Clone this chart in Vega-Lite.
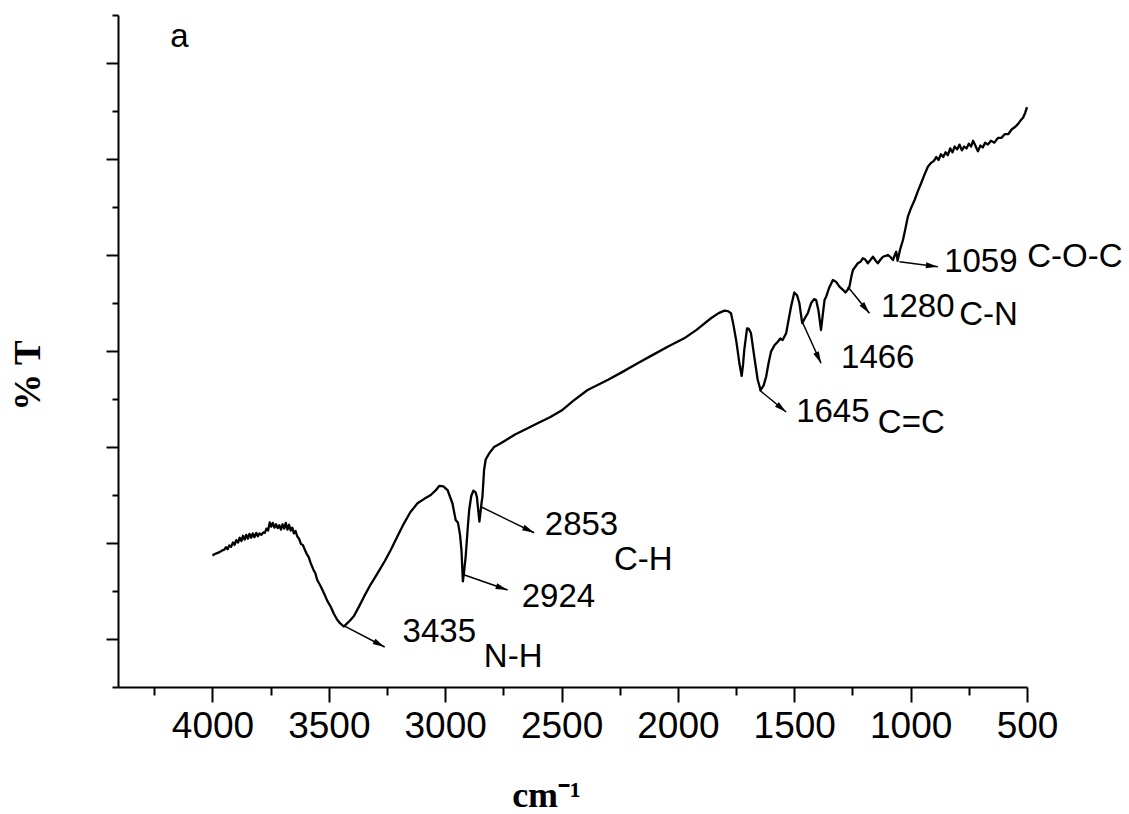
{
  "$schema": "https://vega.github.io/schema/vega-lite/v6.json",
  "autosize": "none",
  "width": 909,
  "height": 672,
  "padding": {"left": 118, "top": 15, "right": 102, "bottom": 127},
  "background": "white",
  "config": {"view": {"stroke": null}},
  "datasets": {
    "spectrum": [
      {"w": 4000, "t": 13.70}, {"w": 3990, "t": 13.85}, {"w": 3980, "t": 13.95}, {"w": 3970, "t": 14.05},
      {"w": 3960, "t": 14.20}, {"w": 3950, "t": 14.30}, {"w": 3942, "t": 14.55}, {"w": 3935, "t": 14.35},
      {"w": 3928, "t": 14.75}, {"w": 3920, "t": 14.60}, {"w": 3912, "t": 15.05}, {"w": 3905, "t": 14.80},
      {"w": 3898, "t": 15.30}, {"w": 3890, "t": 15.05}, {"w": 3883, "t": 15.55}, {"w": 3876, "t": 15.20},
      {"w": 3869, "t": 15.75}, {"w": 3862, "t": 15.35}, {"w": 3855, "t": 15.85}, {"w": 3848, "t": 15.45},
      {"w": 3841, "t": 15.95}, {"w": 3834, "t": 15.55}, {"w": 3827, "t": 16.00}, {"w": 3820, "t": 15.60},
      {"w": 3812, "t": 16.05}, {"w": 3805, "t": 15.70}, {"w": 3798, "t": 16.00}, {"w": 3790, "t": 15.85},
      {"w": 3782, "t": 16.10}, {"w": 3775, "t": 16.05}, {"w": 3768, "t": 16.50}, {"w": 3761, "t": 16.30},
      {"w": 3754, "t": 17.15}, {"w": 3748, "t": 16.70}, {"w": 3741, "t": 17.10}, {"w": 3734, "t": 16.60},
      {"w": 3727, "t": 16.95}, {"w": 3720, "t": 16.55}, {"w": 3713, "t": 16.85}, {"w": 3706, "t": 16.40},
      {"w": 3699, "t": 16.95}, {"w": 3692, "t": 16.50}, {"w": 3685, "t": 17.10}, {"w": 3678, "t": 16.40},
      {"w": 3671, "t": 16.90}, {"w": 3664, "t": 16.30}, {"w": 3657, "t": 16.60}, {"w": 3650, "t": 16.00},
      {"w": 3643, "t": 16.25}, {"w": 3636, "t": 15.70}, {"w": 3628, "t": 15.45}, {"w": 3620, "t": 14.90},
      {"w": 3612, "t": 14.80}, {"w": 3605, "t": 14.40}, {"w": 3596, "t": 13.90}, {"w": 3587, "t": 13.55},
      {"w": 3578, "t": 12.90}, {"w": 3565, "t": 12.15}, {"w": 3558, "t": 11.85}, {"w": 3550, "t": 11.15},
      {"w": 3535, "t": 10.50}, {"w": 3521, "t": 9.76}, {"w": 3507, "t": 9.00}, {"w": 3492, "t": 8.36},
      {"w": 3478, "t": 7.60}, {"w": 3464, "t": 7.00}, {"w": 3450, "t": 6.60}, {"w": 3440, "t": 6.40},
      {"w": 3435, "t": 6.30}, {"w": 3425, "t": 6.55}, {"w": 3410, "t": 6.90}, {"w": 3392, "t": 7.40},
      {"w": 3370, "t": 8.40}, {"w": 3349, "t": 9.41}, {"w": 3320, "t": 10.70}, {"w": 3291, "t": 11.84},
      {"w": 3260, "t": 13.10}, {"w": 3234, "t": 14.27}, {"w": 3205, "t": 15.70}, {"w": 3177, "t": 17.05},
      {"w": 3150, "t": 18.20}, {"w": 3119, "t": 19.14}, {"w": 3090, "t": 19.60}, {"w": 3062, "t": 20.00},
      {"w": 3040, "t": 20.50}, {"w": 3026, "t": 20.94}, {"w": 3008, "t": 20.90}, {"w": 2990, "t": 20.52},
      {"w": 2969, "t": 19.14}, {"w": 2955, "t": 17.40}, {"w": 2945, "t": 17.10}, {"w": 2936, "t": 15.80},
      {"w": 2930, "t": 14.20}, {"w": 2924, "t": 11.00}, {"w": 2918, "t": 12.20}, {"w": 2912, "t": 13.57},
      {"w": 2904, "t": 16.30}, {"w": 2897, "t": 18.44}, {"w": 2888, "t": 19.90}, {"w": 2879, "t": 20.45},
      {"w": 2870, "t": 20.30}, {"w": 2864, "t": 19.82}, {"w": 2858, "t": 18.40}, {"w": 2853, "t": 17.22},
      {"w": 2848, "t": 18.30}, {"w": 2844, "t": 19.14}, {"w": 2840, "t": 19.82}, {"w": 2836, "t": 21.40},
      {"w": 2833, "t": 22.60}, {"w": 2826, "t": 23.70}, {"w": 2811, "t": 24.34}, {"w": 2790, "t": 25.00},
      {"w": 2761, "t": 25.39}, {"w": 2700, "t": 26.30}, {"w": 2650, "t": 26.90}, {"w": 2603, "t": 27.47},
      {"w": 2550, "t": 28.10}, {"w": 2500, "t": 28.80}, {"w": 2450, "t": 29.80}, {"w": 2388, "t": 30.94},
      {"w": 2300, "t": 32.00}, {"w": 2240, "t": 32.80}, {"w": 2173, "t": 33.72}, {"w": 2100, "t": 34.70},
      {"w": 2040, "t": 35.50}, {"w": 1973, "t": 36.32}, {"w": 1920, "t": 37.20}, {"w": 1858, "t": 38.41},
      {"w": 1825, "t": 38.95}, {"w": 1800, "t": 39.20}, {"w": 1785, "t": 39.15}, {"w": 1772, "t": 38.93},
      {"w": 1762, "t": 37.80}, {"w": 1750, "t": 36.15}, {"w": 1742, "t": 34.80}, {"w": 1736, "t": 33.72},
      {"w": 1726, "t": 32.40}, {"w": 1720, "t": 33.60}, {"w": 1715, "t": 35.10}, {"w": 1703, "t": 37.36},
      {"w": 1695, "t": 37.30}, {"w": 1686, "t": 36.84}, {"w": 1672, "t": 34.41}, {"w": 1657, "t": 31.98},
      {"w": 1645, "t": 30.94}, {"w": 1632, "t": 31.40}, {"w": 1621, "t": 32.32}, {"w": 1610, "t": 33.80},
      {"w": 1600, "t": 34.93}, {"w": 1585, "t": 35.60}, {"w": 1571, "t": 35.97}, {"w": 1560, "t": 36.30},
      {"w": 1550, "t": 36.15}, {"w": 1535, "t": 36.84}, {"w": 1524, "t": 38.30}, {"w": 1514, "t": 39.61},
      {"w": 1500, "t": 41.10}, {"w": 1488, "t": 40.80}, {"w": 1478, "t": 39.97}, {"w": 1466, "t": 37.90},
      {"w": 1455, "t": 38.40}, {"w": 1442, "t": 38.93}, {"w": 1428, "t": 39.97}, {"w": 1415, "t": 40.40},
      {"w": 1406, "t": 40.31}, {"w": 1396, "t": 39.20}, {"w": 1385, "t": 37.19}, {"w": 1377, "t": 38.90},
      {"w": 1370, "t": 40.31}, {"w": 1363, "t": 40.66}, {"w": 1350, "t": 41.60}, {"w": 1334, "t": 42.40},
      {"w": 1320, "t": 42.20}, {"w": 1306, "t": 41.70}, {"w": 1292, "t": 41.40}, {"w": 1280, "t": 41.10},
      {"w": 1270, "t": 41.40}, {"w": 1263, "t": 41.70}, {"w": 1255, "t": 42.70}, {"w": 1248, "t": 43.44},
      {"w": 1237, "t": 43.80}, {"w": 1227, "t": 44.14}, {"w": 1215, "t": 44.30}, {"w": 1205, "t": 44.66},
      {"w": 1194, "t": 44.50}, {"w": 1184, "t": 44.14}, {"w": 1172, "t": 44.50}, {"w": 1162, "t": 44.82},
      {"w": 1150, "t": 44.40}, {"w": 1141, "t": 44.14}, {"w": 1130, "t": 44.50}, {"w": 1119, "t": 44.82},
      {"w": 1108, "t": 44.90}, {"w": 1098, "t": 45.00}, {"w": 1087, "t": 44.80}, {"w": 1076, "t": 44.48},
      {"w": 1068, "t": 45.00}, {"w": 1062, "t": 45.34}, {"w": 1056, "t": 44.40}, {"w": 1046, "t": 45.50},
      {"w": 1033, "t": 46.56}, {"w": 1022, "t": 47.80}, {"w": 1012, "t": 48.99}, {"w": 998, "t": 49.90},
      {"w": 983, "t": 50.73}, {"w": 968, "t": 51.70}, {"w": 955, "t": 52.47}, {"w": 940, "t": 53.40},
      {"w": 926, "t": 54.20}, {"w": 912, "t": 54.60}, {"w": 900, "t": 54.80}, {"w": 890, "t": 55.20},
      {"w": 880, "t": 54.90}, {"w": 870, "t": 55.50}, {"w": 860, "t": 55.20}, {"w": 850, "t": 55.70},
      {"w": 840, "t": 55.40}, {"w": 830, "t": 56.10}, {"w": 820, "t": 55.70}, {"w": 811, "t": 56.30},
      {"w": 800, "t": 56.00}, {"w": 790, "t": 56.50}, {"w": 780, "t": 55.90}, {"w": 770, "t": 56.30},
      {"w": 760, "t": 56.10}, {"w": 750, "t": 56.60}, {"w": 740, "t": 56.30}, {"w": 732, "t": 56.90},
      {"w": 722, "t": 56.40}, {"w": 711, "t": 55.80}, {"w": 700, "t": 56.40}, {"w": 690, "t": 56.20},
      {"w": 680, "t": 56.70}, {"w": 668, "t": 56.50}, {"w": 655, "t": 56.90}, {"w": 640, "t": 56.70},
      {"w": 625, "t": 57.20}, {"w": 610, "t": 57.20}, {"w": 595, "t": 57.60}, {"w": 580, "t": 57.60},
      {"w": 565, "t": 58.10}, {"w": 553, "t": 58.30}, {"w": 540, "t": 58.60}, {"w": 528, "t": 59.00},
      {"w": 517, "t": 59.30}, {"w": 508, "t": 59.80}, {"w": 500, "t": 60.40}
    ],
    "arrows": [
      {"peak": "3435", "w1": 3432, "t1": 6.35, "w2": 3260, "t2": 4.17, "ang": 117.7},
      {"peak": "2924", "w1": 2920, "t1": 11.7, "w2": 2732, "t2": 10.10, "ang": 108.9},
      {"peak": "2853", "w1": 2847, "t1": 18.78, "w2": 2618, "t2": 16.07, "ang": 116.0},
      {"peak": "1645", "w1": 1650, "t1": 30.94, "w2": 1535, "t2": 28.65, "ang": 129.5},
      {"peak": "1466", "w1": 1463, "t1": 37.89, "w2": 1385, "t2": 33.72, "ang": 155.4},
      {"peak": "1280", "w1": 1270, "t1": 41.70, "w2": 1177, "t2": 38.93, "ang": 140.9},
      {"peak": "1059", "w1": 1048, "t1": 44.30, "w2": 883, "t2": 43.78, "ang": 97.4}
    ],
    "labels": [
      {"text": "a", "w": 4181, "t": 66.67},
      {"text": "3435", "w": 3183, "t": 4.69},
      {"text": "N-H", "w": 2834, "t": 2.08},
      {"text": "2924", "w": 2671, "t": 8.33},
      {"text": "2853", "w": 2572, "t": 15.83},
      {"text": "C-H", "w": 2275, "t": 12.19},
      {"text": "1645", "w": 1492, "t": 27.64},
      {"text": "C=C", "w": 1141, "t": 26.46},
      {"text": "1466", "w": 1299, "t": 33.23},
      {"text": "1280", "w": 1127, "t": 38.57},
      {"text": "C-N", "w": 791, "t": 37.71},
      {"text": "1059", "w": 856, "t": 43.26},
      {"text": "C-O-C", "w": 499, "t": 43.75}
    ]
  },
  "layer": [
    {
      "data": {"name": "spectrum"},
      "mark": {"type": "line", "color": "black", "strokeWidth": 2.3, "strokeJoin": "round"},
      "encoding": {
        "x": {
          "field": "w", "type": "quantitative",
          "scale": {"domain": [4406, 500], "nice": false, "zero": false},
          "axis": {
            "orient": "bottom",
            "values": [4250, 4000, 3750, 3500, 3250, 3000, 2750, 2500, 2250, 2000, 1750, 1500, 1250, 1000, 750, 500],
            "format": "d",
            "labelExpr": "datum.value % 500 === 0 ? datum.label : ''",
            "labelFont": "Liberation Sans",
            "labelFontSize": 37,
            "labelColor": "black",
            "labelPadding": 6,
            "labelFlush": false,
            "labelOverlap": false,
            "tickColor": "black",
            "tickWidth": 2,
            "tickSize": {"condition": {"test": "datum.value % 500 === 0", "value": 15}, "value": 8},
            "domainColor": "black",
            "domainWidth": 2,
            "grid": false,
            "title": "cm⁻¹",
            "titleFont": "Liberation Serif",
            "titleFontWeight": "bold",
            "titleFontSize": 36,
            "titleColor": "black",
            "titleAlign": "center",
            "titleBaseline": "alphabetic",
            "titleX": 428,
            "titleY": 119
          }
        },
        "y": {
          "field": "t", "type": "quantitative",
          "scale": {"domain": [0, 70], "nice": false, "zero": false},
          "axis": {
            "orient": "left",
            "values": [0, 5, 10, 15, 20, 25, 30, 35, 40, 45, 50, 55, 60, 65, 70],
            "labels": false,
            "tickColor": "black",
            "tickWidth": 2,
            "tickSize": {"condition": {"test": "datum.value % 10 !== 0", "value": 12}, "value": 6},
            "domainColor": "black",
            "domainWidth": 2,
            "grid": false,
            "title": "% T",
            "titleFont": "Liberation Serif",
            "titleFontWeight": "bold",
            "titleFontSize": 37,
            "titleColor": "black",
            "titleAngle": 270,
            "titleAlign": "center",
            "titleBaseline": "middle",
            "titleX": -90,
            "titleY": 360
          }
        }
      }
    },
    {
      "data": {"name": "arrows"},
      "mark": {"type": "rule", "color": "black", "strokeWidth": 1.5},
      "encoding": {
        "x": {"field": "w1", "type": "quantitative"},
        "y": {"field": "t1", "type": "quantitative"},
        "x2": {"field": "w2"},
        "y2": {"field": "t2"}
      }
    },
    {
      "data": {"name": "arrows"},
      "mark": {"type": "point", "shape": "M0,0L0.5,2L-0.5,2Z", "filled": true, "color": "black", "opacity": 1, "size": 144},
      "encoding": {
        "x": {"field": "w2", "type": "quantitative"},
        "y": {"field": "t2", "type": "quantitative"},
        "angle": {"field": "ang", "type": "quantitative", "scale": null}
      }
    },
    {
      "data": {"name": "labels"},
      "mark": {"type": "text", "font": "Liberation Sans", "fontSize": 33, "color": "black", "align": "left", "baseline": "alphabetic"},
      "encoding": {
        "x": {"field": "w", "type": "quantitative"},
        "y": {"field": "t", "type": "quantitative"},
        "text": {"field": "text"}
      }
    }
  ]
}
